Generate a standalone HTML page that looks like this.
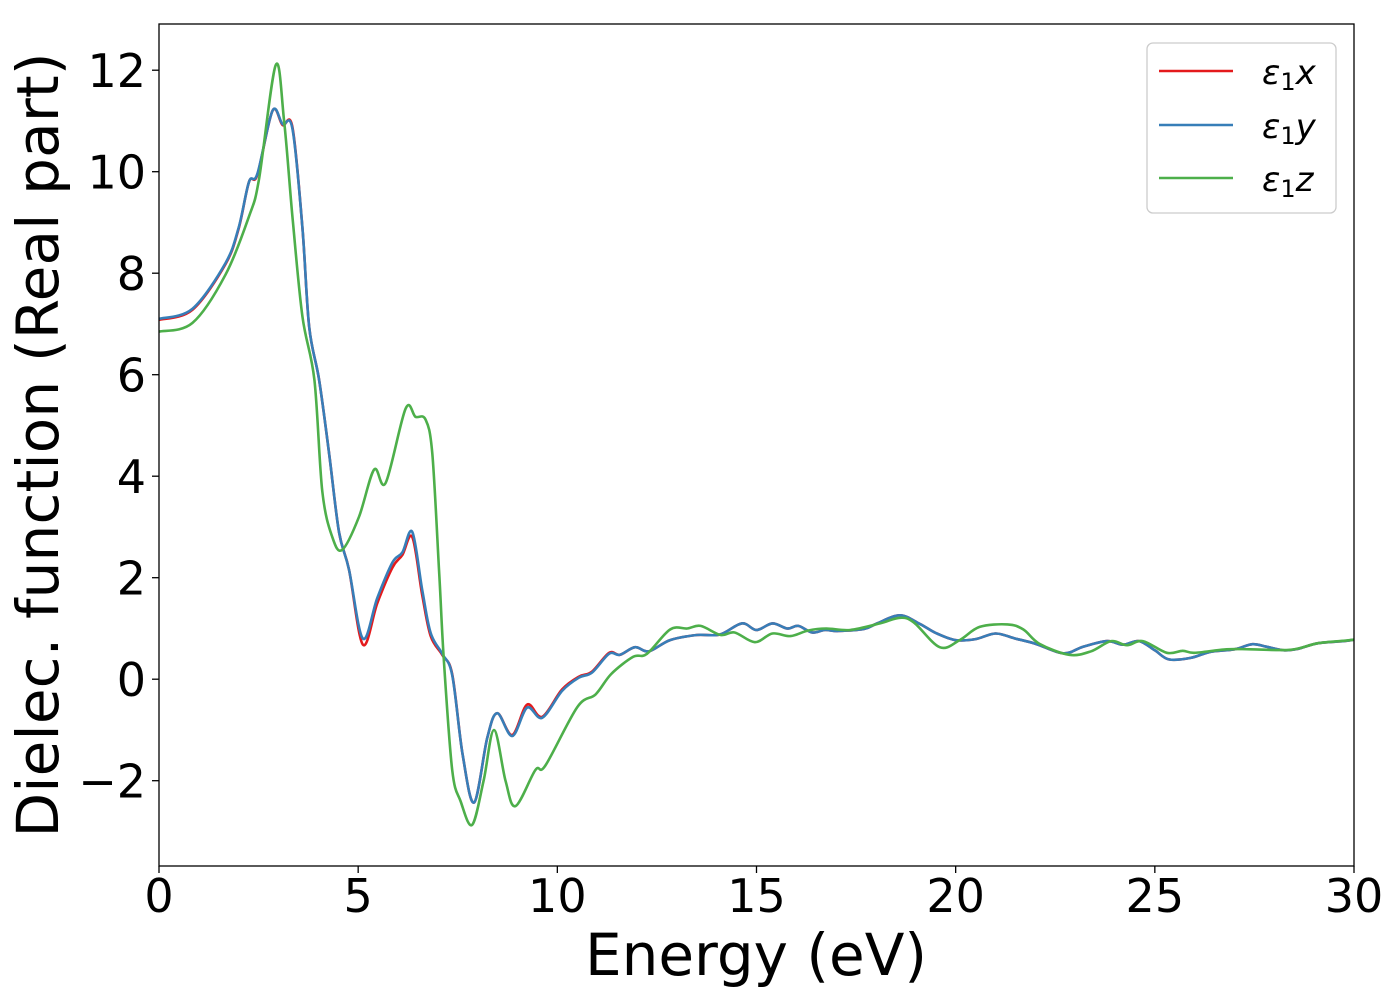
<!DOCTYPE html>
<html><head><meta charset="utf-8"><style>
html,body{margin:0;padding:0;background:#fff;}
svg{display:block;font-family:"DejaVu Sans","Liberation Sans",sans-serif;}
</style></head><body>
<svg id="chart" width="1400" height="1000" viewBox="0 0 1400 1000" xmlns="http://www.w3.org/2000/svg">
<rect width="1400" height="1000" fill="#fff"/>
<g id="series"></g>
<rect x="159" y="24" width="1195" height="842" fill="none" stroke="#000" stroke-width="1.3"/>
<g id="xticks"></g>
<g id="yticks"></g>
<text x="756" y="975" text-anchor="middle" font-size="58" textLength="342">Energy (eV)</text>
<text transform="translate(58,445) rotate(-90)" text-anchor="middle" font-size="58" textLength="785">Dielec. function (Real part)</text>
<g>
<rect x="1147" y="43" width="189" height="170" rx="6" fill="#fff" stroke="#ccc" stroke-width="1.3"/>
<g><line x1="1159" y1="71" x2="1233" y2="71" stroke="#e41a1c" stroke-width="2.5"/><text x="1262" y="84" font-size="34"><tspan font-style="italic">ε</tspan><tspan font-size="24" dy="6">1</tspan><tspan font-style="italic" dy="-6">x</tspan></text></g>
<g><line x1="1159" y1="125" x2="1233" y2="125" stroke="#377eb8" stroke-width="2.5"/><text x="1262" y="138" font-size="34"><tspan font-style="italic">ε</tspan><tspan font-size="24" dy="6">1</tspan><tspan font-style="italic" dy="-6">y</tspan></text></g>
<g><line x1="1159" y1="178" x2="1233" y2="178" stroke="#4daf4a" stroke-width="2.5"/><text x="1262" y="191" font-size="34"><tspan font-style="italic">ε</tspan><tspan font-size="24" dy="6">1</tspan><tspan font-style="italic" dy="-6">z</tspan></text></g>
</g>
</svg>
<script>
const xTickLabels = [0, 5, 10, 15, 20, 25, 30];
const yTickLabels = [-2, 0, 2, 4, 6, 8, 10, 12];
const energyXY = [0,0.84,1.67,2.0,2.26,2.47,2.85,3.1,3.35,3.6,3.77,4.02,4.27,4.52,4.77,5.12,5.48,5.86,6.11,6.36,6.61,6.82,7.11,7.36,7.62,7.91,8.24,8.49,8.87,9.24,9.62,10.12,10.54,10.87,11.3,11.57,11.95,12.3,12.83,13.5,14.08,14.63,15.0,15.4,15.77,16.05,16.4,16.72,17.05,17.7,18.03,18.6,19.1,19.5,20.0,20.5,21.0,21.5,22.0,22.7,23.2,23.8,24.2,24.6,25.0,25.35,25.9,26.4,27.0,27.45,27.8,28.25,28.6,29.1,29.75,30];
const epsX = [7.08,7.28,8.18,8.88,9.8,9.94,11.2,10.92,10.88,8.9,6.94,5.9,4.45,2.9,2.16,0.68,1.5,2.2,2.45,2.8,1.65,0.85,0.48,0.1,-1.47,-2.43,-1.16,-0.67,-1.1,-0.5,-0.74,-0.2,0.05,0.15,0.52,0.48,0.63,0.55,0.77,0.87,0.88,1.1,0.97,1.1,1.0,1.05,0.92,0.97,0.95,0.99,1.1,1.26,1.09,0.91,0.77,0.79,0.9,0.8,0.7,0.51,0.64,0.75,0.68,0.75,0.57,0.39,0.42,0.54,0.59,0.69,0.64,0.57,0.6,0.71,0.75,0.78];
const epsY = [7.1,7.3,8.2,8.9,9.8,9.96,11.2,10.94,10.85,8.9,6.94,5.9,4.45,2.9,2.16,0.8,1.6,2.3,2.5,2.9,1.75,0.91,0.5,0.08,-1.47,-2.43,-1.16,-0.67,-1.12,-0.56,-0.76,-0.23,0.03,0.13,0.5,0.48,0.63,0.55,0.77,0.87,0.88,1.1,0.97,1.1,1.0,1.05,0.92,0.97,0.95,0.99,1.1,1.26,1.09,0.91,0.77,0.79,0.9,0.8,0.7,0.51,0.64,0.75,0.68,0.75,0.57,0.39,0.42,0.54,0.59,0.69,0.64,0.57,0.6,0.71,0.75,0.78];
const energyZ = [0,0.84,1.67,2.26,2.51,2.93,3.14,3.35,3.6,3.9,4.1,4.35,4.6,5.02,5.4,5.69,6.19,6.44,6.69,6.86,7.03,7.15,7.36,7.57,7.86,8.15,8.41,8.7,8.95,9.45,9.7,10.5,10.96,11.35,11.9,12.25,12.83,13.26,13.6,14.1,14.45,14.96,15.4,15.85,16.3,16.75,17.35,18.1,18.6,18.95,19.6,20.1,20.6,21.3,21.7,22.1,22.85,23.4,23.9,24.3,24.7,25.3,25.7,26.0,26.8,27.4,28.4,29.1,29.8,30];
const epsZ = [6.85,7.02,7.97,9.12,9.85,12.1,11.0,9.12,7.15,5.9,3.7,2.8,2.55,3.2,4.13,3.87,5.33,5.17,5.12,4.45,2.16,0.39,-1.79,-2.4,-2.87,-2.0,-1.0,-2.0,-2.5,-1.79,-1.7,-0.55,-0.3,0.1,0.44,0.5,0.98,1.0,1.05,0.87,0.92,0.73,0.9,0.85,0.96,1.0,0.97,1.1,1.21,1.12,0.63,0.77,1.03,1.08,0.98,0.7,0.48,0.55,0.75,0.67,0.75,0.52,0.56,0.52,0.59,0.59,0.58,0.71,0.76,0.78];

const X0 = 159, X1 = 1354, XMIN = 0, XMAX = 30;
const Y0PX = 679.2, YPERUNIT = 50.75;
function xScale(v){ return X0 + (v - XMIN) / (XMAX - XMIN) * (X1 - X0); }
function yScale(v){ return Y0PX - v * YPERUNIT; }
const NS = "http://www.w3.org/2000/svg";

function smoothPath(xs, ys){
  const p = xs.map((x,i)=>[xScale(x), yScale(ys[i])]);
  let d = "M" + p[0][0].toFixed(1) + "," + p[0][1].toFixed(1);
  for (let i = 0; i < p.length - 1; i++){
    const a = p[Math.max(i-1,0)], b = p[i], c = p[i+1], e = p[Math.min(i+2,p.length-1)];
    const c1 = [b[0] + (c[0]-a[0])/6, b[1] + (c[1]-a[1])/6];
    const c2 = [c[0] - (e[0]-b[0])/6, c[1] - (e[1]-b[1])/6];
    d += " C" + c1[0].toFixed(1)+","+c1[1].toFixed(1)+" "+c2[0].toFixed(1)+","+c2[1].toFixed(1)+" "+c[0].toFixed(1)+","+c[1].toFixed(1);
  }
  return d;
}

const sg = document.getElementById("series");
function addLine(xs, ys, color, name){
  const path = document.createElementNS(NS, "path");
  path.setAttribute("d", smoothPath(xs, ys));
  path.setAttribute("fill", "none");
  path.setAttribute("stroke", color);
  path.setAttribute("stroke-width", "2.6");
  path.setAttribute("stroke-linejoin", "round");
  
  
  sg.appendChild(path);
}
addLine(energyXY, epsX, "#e41a1c", "line-eps1x");
addLine(energyXY, epsY, "#377eb8", "line-eps1y");
addLine(energyZ, epsZ, "#4daf4a", "line-eps1z");

const xg = document.getElementById("xticks");
xTickLabels.forEach(v => {
  const x = xScale(v);
  const t = document.createElementNS(NS, "line");
  t.setAttribute("x1", x); t.setAttribute("x2", x);
  t.setAttribute("y1", 866); t.setAttribute("y2", 873);
  t.setAttribute("stroke", "#000"); t.setAttribute("stroke-width", "1.3");
  
  
  xg.appendChild(t);
  const l = document.createElementNS(NS, "text");
  l.setAttribute("x", x); l.setAttribute("y", 912);
  l.setAttribute("text-anchor", "middle"); l.setAttribute("font-size", "46");
  l.textContent = String(v);
  
  
  xg.appendChild(l);
});
const yg = document.getElementById("yticks");
yTickLabels.forEach(v => {
  const y = yScale(v);
  const t = document.createElementNS(NS, "line");
  t.setAttribute("x1", 152); t.setAttribute("x2", 159);
  t.setAttribute("y1", y); t.setAttribute("y2", y);
  t.setAttribute("stroke", "#000"); t.setAttribute("stroke-width", "1.3");
  
  
  yg.appendChild(t);
  const l = document.createElementNS(NS, "text");
  l.setAttribute("x", 146); l.setAttribute("y", y + 17);
  l.setAttribute("text-anchor", "end"); l.setAttribute("font-size", "46");
  l.textContent = v < 0 ? "\u2212" + Math.abs(v) : String(v);
  
  
  yg.appendChild(l);
});
</script>
</body></html>
